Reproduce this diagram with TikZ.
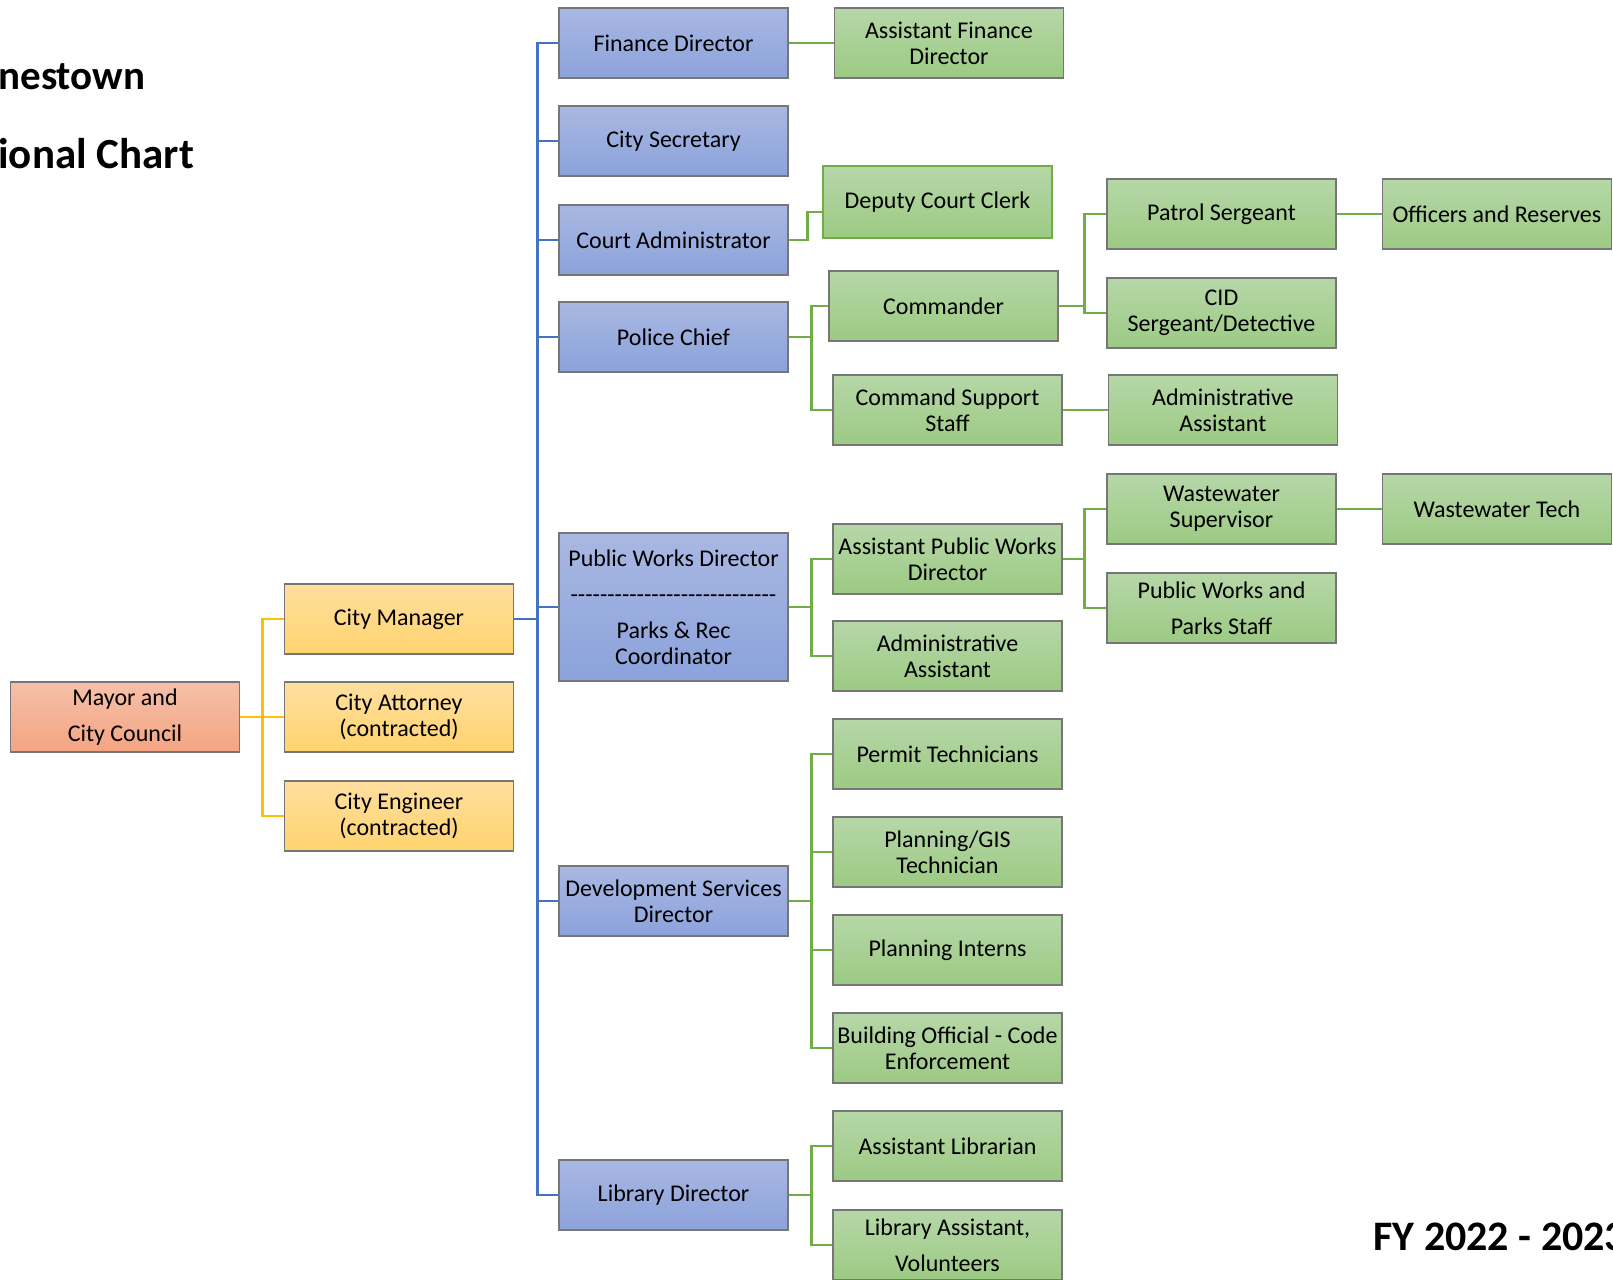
\documentclass[tikz,border=0pt]{standalone}
\usepackage{fontspec}
\setmainfont{Carlito}
\usetikzlibrary{positioning}

\definecolor{bluetop}{HTML}{A9B8E2}
\definecolor{bluebot}{HTML}{8BA2DB}
\definecolor{greentop}{HTML}{B6D7A8}
\definecolor{greenbot}{HTML}{9CCA83}
\definecolor{yellowtop}{HTML}{FFDF9F}
\definecolor{yellowbot}{HTML}{FFD36E}
\definecolor{salmontop}{HTML}{F6C0A9}
\definecolor{salmonbot}{HTML}{F4A482}
\definecolor{bluelink}{HTML}{4472C4}
\definecolor{greenlink}{HTML}{70AD47}
\definecolor{yellowlink}{HTML}{FFC000}
\definecolor{boxline}{HTML}{767676}

\newcommand{\pwdash}{\foreach \k in {1,...,28}{-}}

\tikzset{
    box/.style={draw=boxline, line width=0.7pt, minimum width=114.5pt, minimum height=35pt,
        inner sep=1pt, align=center, font=\fontsize{12}{13}\selectfont},
    director/.style={box, top color=bluetop, bottom color=bluebot},
    staff/.style={box, top color=greentop, bottom color=greenbot},
    officer/.style={box, top color=yellowtop, bottom color=yellowbot},
    council/.style={box, top color=salmontop, bottom color=salmonbot},
    wide/.style={font=\fontsize{12}{18}\selectfont},
    link/.style={line width=1.4pt},
    heading/.style={font=\fontsize{21}{25}\selectfont\bfseries, inner sep=0pt, anchor=base west},
}

\begin{document}
\begin{tikzpicture}[x=0.5pt, y=-0.5pt, node distance=22.5pt]
        \useasboundingbox (0,0) rectangle (1613,1280);
        \clip (0,0) rectangle (1613,1280);

        % Titles
        \node[heading, font=\fontsize{20.5}{25}\selectfont\bfseries] (town) at (-2,89) {nestown};
        \node[heading, font=\fontsize{21.5}{25}\selectfont\bfseries] (chart) at (-2,168) {ional Chart};
        \node[heading] (fy) at (1373,1250) {FY 2022 - 2023};

        % Council and appointed officers
        \node[council, wide] (mayor) at (125,717) {Mayor and\\City Council};
        \node[officer] (cm) at (399,619) {City Manager};
        \node[officer] (ca) at (399,717) {City Attorney\\(contracted)};
        \node[officer] (ce) at (399,816) {City Engineer\\(contracted)};

        % Directors
        \node[director] (fd)   at (673.5,43)   {Finance Director};
        \node[director] (cs)   at (673.5,141)  {City Secretary};
        \node[director] (cadm) at (673.5,240)  {Court Administrator};
        \node[director] (pc)   at (673.5,337)  {Police Chief};
        \node[director, minimum height=74pt] (pw) at (673.5,607)
            {Public Works Director\\[5pt]\pwdash\\[5pt]Parks \& Rec\\Coordinator};
        \node[director] (ds)   at (673.5,901)  {Development Services\\Director};
        \node[director] (ld)   at (673.5,1195) {Library Director};

        % Staff, first level
        \node[staff, right=of fd] (afd) {Assistant Finance\\Director};
        \node[staff, draw=greenlink, line width=1.2pt, minimum height=36pt] (dcc) at (937.5,202) {Deputy Court Clerk};
        \node[staff] (cmd) at (943.5,306)  {Commander};
        \node[staff] (css) at (947.5,410)  {Command Support\\Staff};
        \node[staff] (apw) at (947.5,559)  {Assistant Public Works\\Director};
        \node[staff] (aa1) at (947.5,656)  {Administrative\\Assistant};
        \node[staff] (pt)  at (947.5,754)  {Permit Technicians};
        \node[staff] (gis) at (947.5,852)  {Planning/GIS\\Technician};
        \node[staff] (pi)  at (947.5,950)  {Planning Interns};
        \node[staff] (bo)  at (947.5,1048) {Building Official - Code\\Enforcement};
        \node[staff] (al)  at (947.5,1146) {Assistant Librarian};
        \node[staff, wide] (la) at (947.5,1245) {Library Assistant,\\Volunteers};

        % Staff, second and third level
        \node[staff] (ps)  at (1221.5,214) {Patrol Sergeant};
        \node[staff] (cid) at (1221.5,313) {CID\\Sergeant/Detective};
        \node[staff, right=of css] (aa2) {Administrative\\Assistant};
        \node[staff] (wws) at (1221.5,509) {Wastewater\\Supervisor};
        \node[staff, wide] (pws) at (1221.5,608) {Public Works and\\Parks Staff};
        \node[staff, right=of ps]  (ors) {Officers and Reserves};
        \node[staff, right=of wws] (wwt) {Wastewater Tech};

        % Connectors
        \foreach \c in {cm,ca,ce}
            \draw[link, yellowlink] (mayor.east) -- ++(22,0) |- (\c.west);
        \foreach \c in {fd,cs,cadm,pc,pw,ds,ld}
            \draw[link, bluelink] (cm.east) -- ++(23,0) |- (\c.west);

        \draw[link, greenlink] (fd) -- (afd);
        \draw[link, greenlink] (cadm.east) -- ++(19,0) |- ([yshift=-5pt]dcc.west);
        \foreach \c in {cmd,css}
            \draw[link, greenlink] (pc.east) -- ++(23,0) |- (\c.west);
        \foreach \c in {ps,cid}
            \draw[link, greenlink] (cmd.east) -- ++(26,0) |- (\c.west);
        \draw[link, greenlink] (css) -- (aa2);
        \draw[link, greenlink] (ps) -- (ors);
        \foreach \c in {apw,aa1}
            \draw[link, greenlink] (pw.east) -- ++(23,0) |- (\c.west);
        \foreach \c in {wws,pws}
            \draw[link, greenlink] (apw.east) -- ++(22,0) |- (\c.west);
        \draw[link, greenlink] (wws) -- (wwt);
        \foreach \c in {pt,gis,pi,bo}
            \draw[link, greenlink] (ds.east) -- ++(23,0) |- (\c.west);
        \foreach \c in {al,la}
            \draw[link, greenlink] (ld.east) -- ++(23,0) |- (\c.west);
\end{tikzpicture}
\end{document}
